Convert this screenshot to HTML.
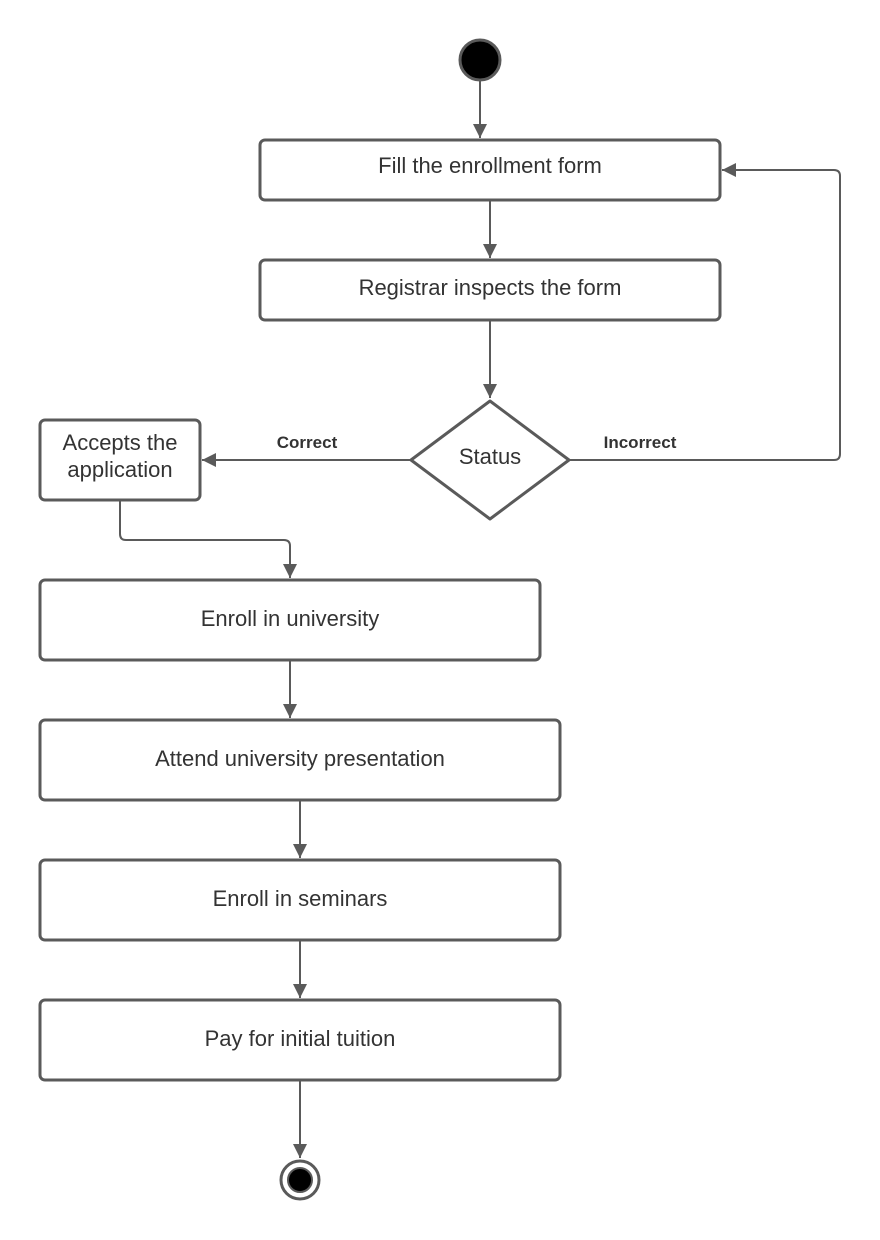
<!DOCTYPE html>
<html><head><meta charset="utf-8"><style>
html,body{margin:0;padding:0;background:#fff;width:880px;height:1240px;overflow:hidden}
svg{display:block}
text{font-family:"Liberation Sans",sans-serif;fill:#333}
</style></head><body>
<svg width="880" height="1240" viewBox="0 0 880 1240" xmlns="http://www.w3.org/2000/svg">
<defs><marker id="a" viewBox="0 0 14 14" refX="14" refY="7" markerWidth="14" markerHeight="14" markerUnits="userSpaceOnUse" orient="auto"><path d="M0,0 L14,7 L0,14 z" fill="#5a5a5a"/></marker></defs>
<g fill="none" stroke="#5a5a5a" stroke-width="2">
<line x1="480" y1="80" x2="480" y2="138" marker-end="url(#a)"/>
<line x1="490" y1="200" x2="490" y2="258" marker-end="url(#a)"/>
<line x1="490" y1="320" x2="490" y2="398" marker-end="url(#a)"/>
<line x1="410" y1="460" x2="202" y2="460" marker-end="url(#a)"/>
<path d="M570,460 H834 Q840,460 840,454 V176 Q840,170 834,170 H722" marker-end="url(#a)"/>
<path d="M120,500 V534 Q120,540 126,540 H284 Q290,540 290,546 V578" marker-end="url(#a)"/>
<line x1="290" y1="660" x2="290" y2="718" marker-end="url(#a)"/>
<line x1="300" y1="800" x2="300" y2="858" marker-end="url(#a)"/>
<line x1="300" y1="940" x2="300" y2="998" marker-end="url(#a)"/>
<line x1="300" y1="1080" x2="300" y2="1158" marker-end="url(#a)"/>
</g>
<g fill="#fff" stroke="#5a5a5a" stroke-width="3">
<rect x="260" y="140" width="460" height="60" rx="5"/>
<rect x="260" y="260" width="460" height="60" rx="5"/>
<path d="M490,401 L569,460 L490,519 L411,460 Z" stroke-linejoin="round"/>
<rect x="40" y="420" width="160" height="80" rx="5"/>
<rect x="40" y="580" width="500" height="80" rx="5"/>
<rect x="40" y="720" width="520" height="80" rx="5"/>
<rect x="40" y="860" width="520" height="80" rx="5"/>
<rect x="40" y="1000" width="520" height="80" rx="5"/>
</g>
<circle cx="480" cy="60" r="20" fill="#000" stroke="#5a5a5a" stroke-width="3"/>
<circle cx="300" cy="1180" r="19" fill="#fff" stroke="#5a5a5a" stroke-width="3"/>
<circle cx="300" cy="1180" r="12" fill="#000" stroke="#5a5a5a" stroke-width="2"/>
<g font-size="22" text-anchor="middle">
<text x="490" y="173">Fill the enrollment form</text>
<text x="490" y="295">Registrar inspects the form</text>
<text x="490" y="464">Status</text>
<text x="120" y="450">Accepts the</text>
<text x="120" y="477">application</text>
<text x="290" y="626">Enroll in university</text>
<text x="300" y="766">Attend university presentation</text>
<text x="300" y="906">Enroll in seminars</text>
<text x="300" y="1046">Pay for initial tuition</text>
</g>
<g font-size="17" font-weight="bold" text-anchor="middle">
<text x="307" y="448">Correct</text>
<text x="640" y="448">Incorrect</text>
</g>
</svg>
</body></html>
